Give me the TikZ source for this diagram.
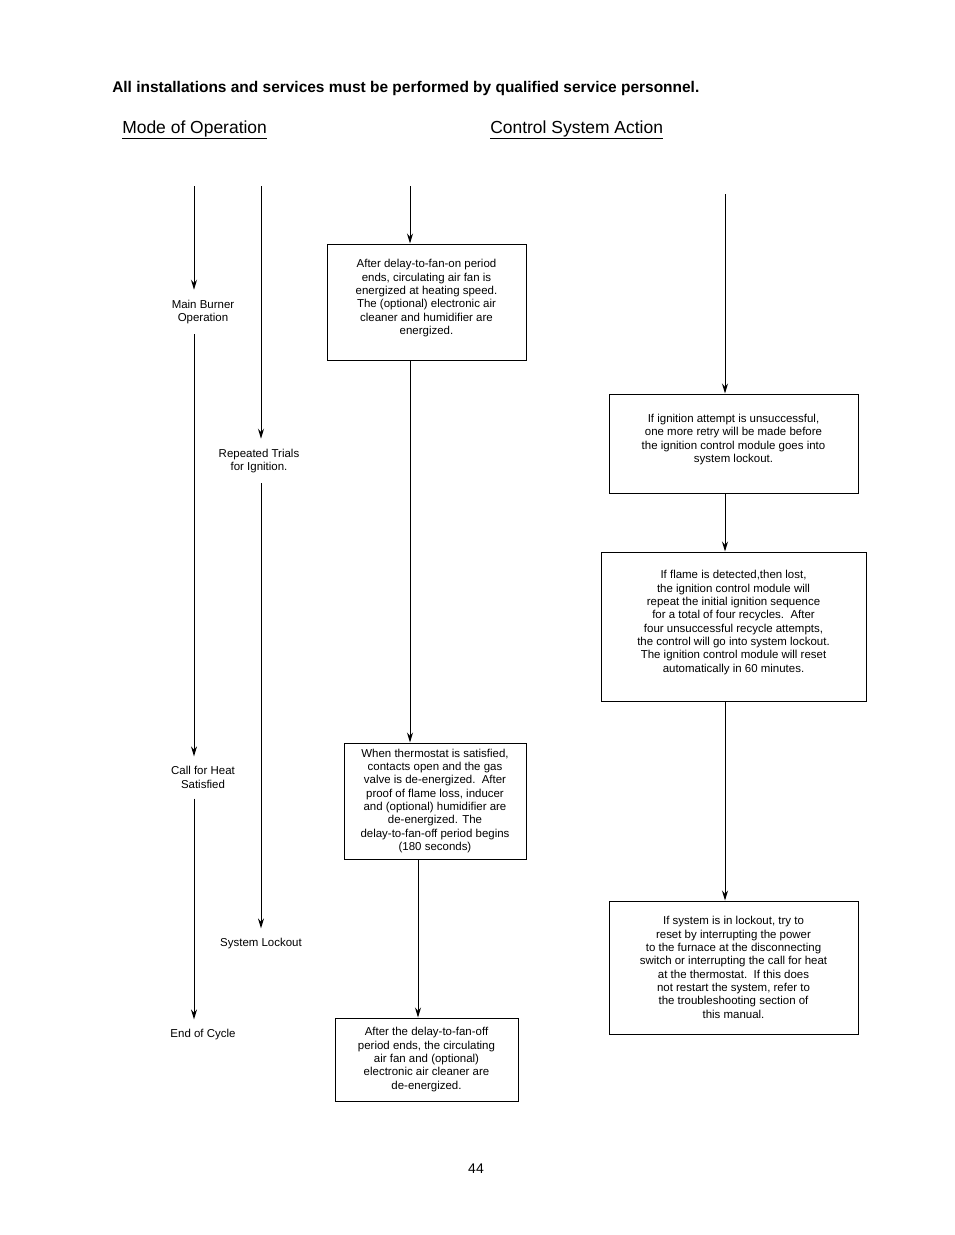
\documentclass[tikz,border=0pt]{standalone}
\usepackage{fontspec}
\setmainfont{Liberation Sans}
\usetikzlibrary{arrows.meta,positioning}

\begin{document}
\begin{tikzpicture}[x=0.75pt, y=-0.75pt,
        every node/.style={font=\fontsize{8.6}{10}\selectfont, align=center},
        head/.style={anchor=west, inner sep=0pt},
        mode/.style={inner xsep=2pt, inner ysep=7.5pt},
        action/.style={draw, line width=0.75pt, inner sep=0pt},
        flow/.style={-{Stealth[length=7.5pt, width=4.5pt, inset=2.5pt]}, line width=0.75pt}]
            \useasboundingbox (0,0) rectangle (954,1235);
            \node[head, font=\fontsize{11.6}{13}\selectfont\bfseries] (warn) at (112,89) {All installations and services must be performed by qualified service personnel.};
            \node[head, font=\fontsize{13.1}{15}\selectfont] (modehead) at (122,130) {\underline{Mode of Operation}};
            \node[head, font=\fontsize{13.1}{15}\selectfont] (acthead) at (490,130) {\underline{Control System Action}};
            % mode of operation
            \coordinate (a0) at (194,186);
            \coordinate (b0) at (261,186);
            \node[mode] (burner) at (203,312) {Main Burner\\Operation};
            \node[mode] (callheat) at (203,777.5) {Call for Heat\\Satisfied};
            \node[mode] (endcycle) at (203,1035) {End of Cycle};
            \node[mode] (trials) at (259,461) {Repeated Trials\\for Ignition.};
            \node[mode] (lockout) at (261,944) {System Lockout};
            % control system action
            \coordinate (c0) at (410,186);
            \coordinate (d0) at (725,194);
            \node[action, minimum width=149.25pt, minimum height=87pt] (fanon) at (426.5,302) {After delay-to-fan-on period\\ends, circulating air fan is\\energized at heating speed.\\The (optional) electronic air\\cleaner and humidifier are\\energized.\\[-2.5pt]};
            \node[action, minimum width=136.5pt, minimum height=87pt] (thermo) at (435,801) {When thermostat is satisfied,\\contacts open and the gas\\valve is de-energized.\ \ After\\proof of flame loss, inducer\\and (optional) humidifier are\\de-energized. The\\delay-to-fan-off period begins\\(180 seconds)};
            \node[action, minimum width=137.25pt, minimum height=62.25pt] (fanoff) at (426.5,1059.5) {After the delay-to-fan-off\\period ends, the circulating\\air fan and (optional)\\electronic air cleaner are\\de-energized.};
            \node[action, minimum width=186.75pt, minimum height=74.25pt] (retry) at (733.5,443.5) {If ignition attempt is unsuccessful,\\one more retry will be made before\\the ignition control module goes into\\system lockout.\\[-2.5pt]};
            \node[action, minimum width=198.75pt, minimum height=111.75pt] (recycle) at (733.5,626.5) {If flame is detected,then lost,\\the ignition control module will\\repeat the initial ignition sequence\\for a total of four recycles.\ \ After\\four unsuccessful recycle attempts,\\the control will go into system lockout.\\The ignition control module will reset\\automatically in 60 minutes.\\[-2.5pt]};
            \node[action, minimum width=186.75pt, minimum height=99.75pt] (reset) at (733.5,967.5) {If system is in lockout, try to\\reset by interrupting the power\\to the furnace at the disconnecting\\switch or interrupting the call for heat\\at the thermostat.\ \ If this does\\not restart the system, refer to\\the troubleshooting section of\\this manual.};
            \node[font=\fontsize{10.5}{12}\selectfont] (page) at (476,1169) {44};
            % connectors
            \draw[flow] (a0) -- (a0 |- burner.north);
            \draw[flow] (a0 |- burner.south) -- (a0 |- callheat.north);
            \draw[flow] (a0 |- callheat.south) -- (a0 |- endcycle.north);
            \draw[flow] (b0) -- (b0 |- trials.north);
            \draw[flow] (b0 |- trials.south) -- (b0 |- lockout.north);
            \draw[flow] (c0) -- (c0 |- fanon.north);
            \draw[flow] (c0 |- fanon.south) -- (c0 |- thermo.north);
            \draw[flow] ([xshift=-12.75pt]thermo.south) -- ([xshift=-12.75pt]thermo.south |- fanoff.north);
            \draw[flow] (d0) -- (d0 |- retry.north);
            \draw[flow] (d0 |- retry.south) -- (d0 |- recycle.north);
            \draw[flow] (d0 |- recycle.south) -- (d0 |- reset.north);
        \end{tikzpicture}
\end{document}
